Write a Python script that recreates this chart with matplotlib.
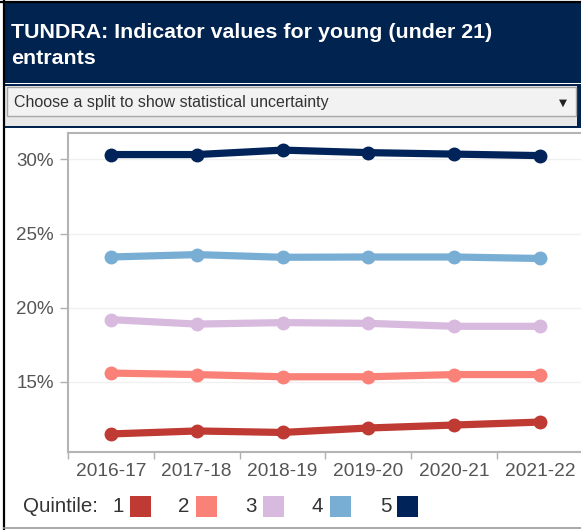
import matplotlib
matplotlib.use("Agg")
import matplotlib.pyplot as plt
from matplotlib.patches import Rectangle

plt.rcParams['font.family'] = ['Liberation Sans', 'DejaVu Sans']

# data
years = ["2016-17", "2017-18", "2018-19", "2019-20", "2020-21", "2021-22"]
quintiles = ["1", "2", "3", "4", "5"]
q1 = [11.5, 11.7, 11.6, 11.9, 12.1, 12.3]
q2 = [15.6, 15.5, 15.35, 15.35, 15.5, 15.5]
q3 = [19.2, 18.9, 19.0, 18.95, 18.75, 18.75]
q4 = [23.42, 23.58, 23.4, 23.42, 23.42, 23.32]
q5 = [30.32, 30.32, 30.62, 30.45, 30.35, 30.25]
series = [q1, q2, q3, q4, q5]
colors = ["#be3a33", "#fa8178", "#d8badf", "#79aed4", "#00245a"]
yticks = [15, 20, 25, 30]

W, H = 581, 530
fig = plt.figure(figsize=(W / 100, H / 100), dpi=100)


def px(x, y):
    # pixel coords (top-left origin) -> figure fraction
    return x / W, 1 - y / H


def rect(x0, y0, x1, y1, **kw):
    fig.patches.append(Rectangle((x0 / W, 1 - y1 / H), (x1 - x0) / W, (y1 - y0) / H,
                                 transform=fig.transFigure, **kw))


# header bar
rect(3, 2, 581, 83, facecolor="#01234f", edgecolor="none")
fig.text(*px(11, 33), "TUNDRA: Indicator values for young (under 21)", color="white",
         fontsize=15.4, fontweight="bold", va="center", ha="left")
fig.text(*px(11, 58), "entrants", color="white", fontsize=15.4, fontweight="bold",
         va="center", ha="left")

# dropdown
rect(3, 84, 581, 128, facecolor="#01234f", edgecolor="none")
rect(5, 86, 577, 126, facecolor="#e8e8e8", edgecolor="none")
rect(7, 87, 576, 116, facecolor="#f2f2f2", edgecolor="#a8a8a8", linewidth=1)
fig.text(*px(14, 102), "Choose a split to show statistical uncertainty", color="#333333",
         fontsize=11.5, va="center", ha="left")
fig.text(*px(563, 103), "\u25bc", color="#222222", fontsize=7.5, va="center", ha="center",
         family=['DejaVu Sans'])

# outer borders
fig.add_artist(plt.Line2D([4 / W, 4 / W], [0, 1], transform=fig.transFigure,
                          color="black", linewidth=1.6))
fig.add_artist(plt.Line2D([0, 1], [1 - 1.5 / H, 1 - 1.5 / H], transform=fig.transFigure,
                          color="black", linewidth=1.6))
fig.add_artist(plt.Line2D([4 / W, 1], [1 - 528 / H, 1 - 528 / H], transform=fig.transFigure,
                          color="#999999", linewidth=1.2))

# plot area
ax_l, ax_t, ax_b = 68, 133, 452
ax = fig.add_axes([ax_l / W, 1 - ax_b / H, (W - ax_l) / W, (ax_b - ax_t) / H])
band = 86
x = list(range(len(years)))
for vals, c in zip(series, colors):
    ax.plot(x, vals, color=c, linewidth=5.2, marker="o", markersize=9,
            solid_capstyle="round", solid_joinstyle="round")

ax.set_xlim(-0.5, (W - 67) / band - 0.5)
ymin = 15 - (452 - 382) / 74.2 * 5
ymax = 30 + (159.3 - 133) / 74.2 * 5
ax.set_ylim(ymin, ymax)

ax.set_yticks(yticks)
ax.set_yticklabels([f"{v}%" for v in yticks])
ax.set_xticks(x)
ax.set_xticklabels(years)
ax.set_xticks([i - 0.5 for i in range(len(years))], minor=True)
ax.tick_params(axis="x", which="major", length=0, pad=8, labelsize=13.8, labelcolor="#555555")
ax.tick_params(axis="x", which="minor", length=5, width=1, color="#b0b0b0")
ax.tick_params(axis="y", length=6, width=1, color="#b0b0b0", pad=4, labelsize=13.5,
               labelcolor="#555555")
ax.grid(axis="y", color="#f0f0f0", linewidth=1)
ax.set_axisbelow(True)
for side in ["left", "top", "bottom"]:
    ax.spines[side].set_color("#b4b4b4")
    ax.spines[side].set_linewidth(1.5)
ax.spines["right"].set_visible(False)

# legend
fig.text(*px(23, 507), "Quintile:", color="#333333", fontsize=14.8, va="center", ha="left")
num_x = [112, 178, 245, 312, 380]
sq_x = [130, 196, 263, 330, 397]
for q, nx, sx, c in zip(quintiles, num_x, sq_x, colors):
    fig.text(*px(nx, 507), q, color="#333333", fontsize=14.8, va="center", ha="left")
    rect(sx, 496, sx + 21, 517, facecolor=c, edgecolor="none")

fig.savefig("out.png", dpi=100)
